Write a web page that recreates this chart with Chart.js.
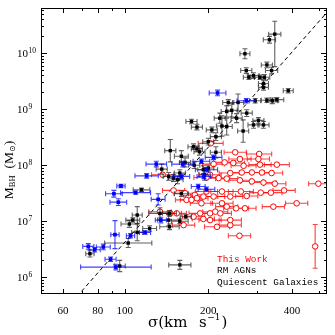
<!doctype html>
<html lang="en">
<head>
<meta charset="utf-8">
<title>M-sigma relation</title>
<style>
  * { margin: 0; padding: 0; }
  body { background: #fff; }
  #chart { display: block; }
</style>
</head>
<body>
<canvas id="chart" width="335" height="335"></canvas>
<script src="https://cdn.jsdelivr.net/npm/chart.js"></script>
<script>
// axis ranges
const sigmaMin = 50, sigmaMax = 535;
const logMMin = 5.70, logMMax = 10.807;
const xMajorTicks = [60, 80, 100, 200, 400];
const xMinorTicks = [70, 90, 300, 500];
const yDecades = [6, 7, 8, 9, 10];

// fit line: log M = a + b log(sigma / 200)
const fitA = 8.32, fitB = 5.64;

// This Work (red open circles); errors in dex
const workSigma = [
  204, 250, 305, 229, 209, 246, 268, 307, 353, 303,
  260, 240, 264, 287, 312, 338, 203, 197, 218, 233,
  260, 287, 316, 347, 498, 137, 150, 165, 179, 192,
  209, 224, 262, 275, 309, 336, 375, 224, 252, 343,
  416, 134, 146, 154, 187, 203, 212, 192, 203, 215,
  240, 163, 259, 485, 167, 182, 197, 240, 221, 233,
  189, 174, 240, 177, 271
];
const workLogM = [
  8.39, 8.23, 8.20, 8.05, 8.02, 8.04, 7.99, 8.01, 8.01, 8.11,
  8.11, 7.86, 7.87, 7.87, 7.87, 7.86, 7.83, 7.78, 7.77, 7.76,
  7.73, 7.71, 7.69, 7.67, 7.67, 7.83, 7.55, 7.50, 7.47, 7.44,
  7.44, 7.53, 7.53, 7.45, 7.51, 7.51, 7.55, 7.32, 7.23, 7.26,
  7.32, 7.17, 7.14, 7.14, 7.14, 7.14, 7.17, 7.04, 7.02, 6.90,
  6.93, 6.93, 6.74, 6.55, 7.38, 7.41, 7.53, 7.44, 7.14, 7.26,
  7.32, 7.38, 7.02, 7.08, 7.23
];
const workSigErr = [
  .045, .04, .045, .04, .04, .04, .045, .04, .045, .04,
  .04, .04, .04, .045, .04, .04, .04, .045, .04, .04,
  .04, .04, .045, .04, .035, .04, .04, .04, .04, .045,
  .04, .04, .045, .04, .04, .04, .04, .04, .045, .04,
  .04, .04, .04, .035, .04, .04, .045, .04, .04, .045,
  .04, .04, .04, 0, .04, .04, .04, .045, .04, .04,
  .04, .04, .04, .04, .04
];
const workMassErr = [
  0, 0, 0, 0, 0, 0, 0, 0, 0, 0,
  0, 0, 0, 0, 0, 0, 0, 0, 0, 0,
  0, 0, 0, 0, 0, 0, 0, 0, 0, 0,
  0, 0, 0, 0, 0, 0, 0, 0, 0, 0,
  0, 0, 0, 0, 0, 0, 0, 0, 0, 0,
  0, 0, 0, .39, 0, 0, 0, 0, 0, 0,
  0, 0, 0, 0, 0
];

// RM AGNs (blue)
const agnSigma = [
  216, 274, 130, 162, 120, 97, 91.5, 109.5, 94.9, 132,
  135, 92.3, 105, 118.4, 74, 78, 83.8, 89, 93, 189,
  197, 193, 184, 197, 160, 209
];
const agnLogM = [
  9.29, 9.15, 8.02, 8.02, 7.81, 7.63, 7.49, 7.51, 7.34, 7.39,
  7.02, 6.76, 6.74, 6.80, 6.55, 6.49, 6.54, 6.32, 6.18, 8.07,
  7.92, 7.80, 7.62, 7.57, 7.80, 8.14
];
const agnSigErr = [
  .03, .033, .037, .04, .042, .015, .03, .054, .03, .025,
  .02, .015, .015, .02, .02, .02, .025, .02, .127, .03,
  .04, .025, .025, .03, .03, .03
];
const agnMassErr = [
  .05, .04, .05, .05, .04, .03, .06, .03, .06, .1,
  .05, .25, .04, .03, .05, .04, .05, .04, .05, .04,
  .04, .04, .04, .04, .04, .04
];

// Quiescent galaxies (black)
const galSigma = [
  347, 332, 271, 274, 325, 338, 291, 307, 318, 280,
  316, 316, 388, 353, 340, 325, 295, 256, 275, 243,
  233, 253, 220, 224, 233, 174, 182, 206, 213, 267,
  291, 316, 303, 177, 182, 186, 146, 160, 165, 158,
  150, 155, 144, 136, 192, 194, 115, 160, 111, 107,
  111, 103, 123, 134, 145, 144, 145, 158, 166, 75,
  96, 158, 104, 200, 213, 200, 178, 236
];
const galLogM = [
  10.34, 10.24, 9.99, 9.69, 9.79, 9.69, 9.60, 9.57, 9.57, 9.57,
  9.46, 9.39, 9.33, 9.17, 9.15, 9.16, 9.15, 9.12, 8.93, 8.98,
  8.96, 8.84, 8.84, 8.70, 8.69, 8.78, 8.68, 8.63, 8.51, 8.61,
  8.72, 8.72, 8.80, 8.33, 8.29, 8.24, 8.26, 8.16, 8.05, 7.86,
  7.77, 7.74, 7.80, 7.93, 7.92, 7.83, 7.56, 7.49, 7.11, 7.02,
  6.80, 6.61, 6.87, 7.14, 7.14, 7.02, 6.90, 7.00, 7.08, 6.42,
  6.20, 6.22, 6.95, 8.42, 8.23, 7.95, 8.00, 9.12
];
const galSigErr = [
  .022, .022, .018, .02, .02, .022, .02, .02, .02, .02,
  .018, .018, .018, .025, .02, .02, .02, .02, .02, .02,
  .02, .02, .02, .02, .02, .02, .02, .02, .02, .02,
  .02, .02, .02, .02, .02, .02, .02, .025, .02, .02,
  .02, .02, .02, .02, .02, .02, .03, .025, .018, .025,
  .02, .085, .025, .04, .025, .04, .035, .03, .02, .015,
  .02, .04, .03, .02, .02, .02, .02, .02
];
const galMassErr = [
  [.58, .23], .06, .09, .05, .05, .06, .05, .04, .05, .04,
  .06, .05, .04, .04, .05, .04, .04, .15, .06, .12,
  .10, .08, .09, .18, .15, .04, .05, .05, .07, .20,
  .06, .06, .05, .05, .05, .06, .20, .10, .08, .06,
  .06, .07, .07, .09, .07, .10, .03, .05, .15, .04,
  .15, .08, .05, .10, .05, .10, .05, .04, .04, .06,
  .10, .08, .06, .06, .10, .05, .06, .05
];

const legendLabels = ['This Work', 'RM AGNs', 'Quiescent Galaxies'];
const legendColours = ['#ff0000', '#000000', '#000000'];

const toPoints = (sig, logm) => sig.map((s, i) => ({ x: s, y: Math.pow(10, logm[i]) }));

// error bar plugin, drawn under each dataset's markers
const errorBars = {
  id: 'errorBars',
  beforeDatasetDraw(chart, args) {
    const ds = chart.data.datasets[args.index];
    if (!ds.sigErr) return;
    const { ctx, chartArea: ca, scales: { x, y } } = chart;
    const cap = 2.5;
    ctx.save();
    ctx.beginPath();
    ctx.rect(ca.left, ca.top, ca.right - ca.left, ca.bottom - ca.top);
    ctx.clip();
    ctx.strokeStyle = ds.errColour;
    ctx.lineWidth = 1.1;
    ds.data.forEach((p, i) => {
      const px = x.getPixelForValue(p.x), py = y.getPixelForValue(p.y);
      ctx.beginPath();
      const se = ds.sigErr[i];
      if (se > 0) {
        const x0 = x.getPixelForValue(p.x / Math.pow(10, se));
        const x1 = x.getPixelForValue(p.x * Math.pow(10, se));
        ctx.moveTo(x0, py); ctx.lineTo(x1, py);
        ctx.moveTo(x0, py - cap); ctx.lineTo(x0, py + cap);
        ctx.moveTo(x1, py - cap); ctx.lineTo(x1, py + cap);
      }
      const me = ds.massErr[i];
      const lo = Array.isArray(me) ? me[0] : me;
      const hi = Array.isArray(me) ? me[1] : me;
      if (lo > 0 || hi > 0) {
        const y0 = y.getPixelForValue(p.y / Math.pow(10, lo));
        const y1 = y.getPixelForValue(p.y * Math.pow(10, hi));
        ctx.moveTo(px, y0); ctx.lineTo(px, y1);
        ctx.moveTo(px - cap, y0); ctx.lineTo(px + cap, y0);
        ctx.moveTo(px - cap, y1); ctx.lineTo(px + cap, y1);
      }
      ctx.stroke();
    });
    ctx.restore();
  }
};

// frame, inward ticks, labels, titles, legend
const frame = {
  id: 'frame',
  afterDraw(chart) {
    const { ctx, chartArea: { left, right, top, bottom }, scales: { x, y } } = chart;
    ctx.save();
    ctx.strokeStyle = '#000';
    ctx.lineWidth = 1;
    ctx.strokeRect(left + 0.5, top + 0.5, right - left - 1, bottom - top - 1);

    ctx.beginPath();
    const xt = (v, len) => {
      const px = Math.round(x.getPixelForValue(v)) + 0.5;
      ctx.moveTo(px, bottom); ctx.lineTo(px, bottom - len);
      ctx.moveTo(px, top); ctx.lineTo(px, top + len);
    };
    const yt = (v, len) => {
      const py = Math.round(y.getPixelForValue(v)) + 0.5;
      ctx.moveTo(left, py); ctx.lineTo(left + len, py);
      ctx.moveTo(right, py); ctx.lineTo(right - len, py);
    };
    xMajorTicks.forEach(v => xt(v, 5));
    xMinorTicks.forEach(v => xt(v, 3));
    for (let d = 5; d <= 10; d++) {
      for (let k = 1; k <= 9; k++) {
        const v = k * Math.pow(10, d);
        if (v < Math.pow(10, logMMin) || v > Math.pow(10, logMMax)) continue;
        yt(v, k === 1 ? 6 : 3);
      }
    }
    ctx.stroke();

    // x tick labels
    ctx.fillStyle = '#000';
    ctx.font = '11px "Liberation Serif"';
    ctx.textAlign = 'center';
    ctx.textBaseline = 'alphabetic';
    xMajorTicks.forEach(v => ctx.fillText(String(v), x.getPixelForValue(v), 314));

    // y tick labels 10^n
    ctx.textAlign = 'left';
    yDecades.forEach(d => {
      const py = y.getPixelForValue(Math.pow(10, d));
      ctx.font = '11px "Liberation Serif"';
      ctx.fillText('10', 17, py + 3.6);
      const w = ctx.measureText('10').width;
      ctx.font = '7.5px "Liberation Serif"';
      ctx.fillText(String(d), 17 + w + 0.5, py - 0.5);
    });

    // x title
    ctx.font = '15px "DejaVu Serif"';
    ctx.fillText('\u03c3(km', 148, 327);
    ctx.fillText('s', 199, 327);
    const sw = ctx.measureText('s').width;
    ctx.font = '9px "DejaVu Serif"';
    ctx.fillText('\u22121', 199 + sw + 0.5, 320);
    const ew = ctx.measureText('\u22121').width;
    ctx.font = '15px "DejaVu Serif"';
    ctx.fillText(')', 199 + sw + ew + 1.5, 327);

    // y title, rotated
    ctx.save();
    ctx.translate(12.5, 170);
    ctx.rotate(-Math.PI / 2);
    const parts = [
      ['M', '13.5px "Liberation Serif"', 0],
      ['BH', '8.5px "Liberation Serif"', 2.5],
      ['  (M', '13.5px "Liberation Serif"', 0],
      ['\u2299', '8px "DejaVu Sans"', 2.5],
      [')', '13.5px "Liberation Serif"', 0]
    ];
    let total = 0;
    parts.forEach(p => { ctx.font = p[1]; total += ctx.measureText(p[0]).width; });
    let cx = -total / 2;
    parts.forEach(p => {
      ctx.font = p[1];
      ctx.fillText(p[0], cx, p[2]);
      cx += ctx.measureText(p[0]).width;
    });
    ctx.restore();

    // legend
    ctx.font = '9.4px "Liberation Mono"';
    const base = [261.5, 273, 284.5];
    legendLabels.forEach((t, i) => {
      ctx.fillStyle = legendColours[i];
      ctx.fillText(t, 217, base[i]);
    });
    ctx.restore();
  }
};

const fitSigma = [60, 600];
const fitLine = fitSigma.map(s => ({ x: s, y: Math.pow(10, fitA + fitB * Math.log10(s / 200)) }));

const config = {
  data: {
    datasets: [
      {
        type: 'line',
        data: fitLine,
        borderColor: '#000',
        borderWidth: 1,
        borderDash: [4, 3],
        pointRadius: 0,
        order: 4
      },
      {
        type: 'scatter',
        label: 'This Work',
        data: toPoints(workSigma, workLogM),
        sigErr: workSigErr,
        massErr: workMassErr,
        errColour: 'rgba(255, 0, 0, 0.75)',
        pointStyle: 'circle',
        pointRadius: 2.8,
        borderWidth: 1,
        borderColor: '#ff0000',
        backgroundColor: '#ffffff',
        order: 3
      },
      {
        type: 'scatter',
        label: 'Quiescent Galaxies',
        data: toPoints(galSigma, galLogM),
        sigErr: galSigErr,
        massErr: galMassErr,
        errColour: 'rgba(30, 30, 30, 0.7)',
        pointStyle: 'rect',
        pointRadius: 2.4,
        borderWidth: 0,
        backgroundColor: '#000000',
        order: 2
      },
      {
        type: 'scatter',
        label: 'RM AGNs',
        data: toPoints(agnSigma, agnLogM),
        sigErr: agnSigErr,
        massErr: agnMassErr,
        errColour: 'rgba(0, 0, 255, 0.75)',
        pointStyle: 'rect',
        pointRadius: 2.6,
        borderWidth: 0,
        backgroundColor: '#0000ff',
        order: 1
      }
    ]
  },
  options: {
    responsive: false,
    animation: false,
    layout: { padding: { left: 41, right: 8, top: 8, bottom: 41 } },
    scales: {
      x: { type: 'logarithmic', min: sigmaMin, max: sigmaMax, display: false },
      y: { type: 'logarithmic', min: Math.pow(10, logMMin), max: Math.pow(10, logMMax), display: false }
    },
    plugins: {
      legend: { display: false },
      tooltip: { enabled: false }
    }
  },
  plugins: [errorBars, frame]
};

new Chart(document.getElementById('chart'), config);
</script>
</body>
</html>
